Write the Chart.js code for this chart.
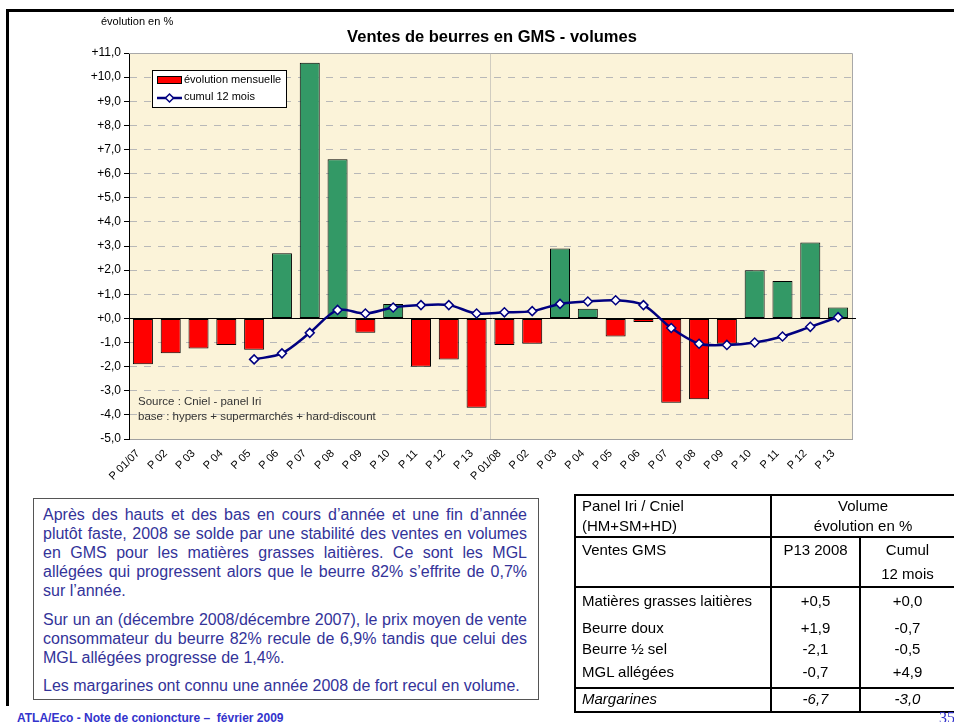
<!DOCTYPE html>
<html lang="fr">
<head>
<meta charset="utf-8">
<title>Ventes de beurres en GMS - volumes</title>
<script src="https://cdn.jsdelivr.net/npm/chart.js@4.4.1/dist/chart.umd.min.js"></script>
<style>
  html, body {
    margin: 0;
    padding: 0;
    width: 954px;
    height: 722px;
    overflow: hidden;
    background: #fff;
    font-family: "Liberation Sans", Arial, sans-serif;
  }
  #frameTop { position: absolute; left: 6px; top: 9px; width: 948px; height: 3px; background: #000; }
  #frameLeft { position: absolute; left: 6px; top: 9px; width: 3px; height: 697px; background: #000; }
  #chart { position: absolute; left: 0; top: 0; }

  #comment {
    position: absolute;
    left: 33px;
    top: 498px;
    width: 506px;
    height: 202px;
    box-sizing: border-box;
    border: 1px solid #555;
    padding: 6px 11px 0 9px;
    color: #333399;
    font-size: 16px;
    line-height: 19px;
  }
  #comment .l { text-align: justify; text-align-last: justify; }
  #comment .end { text-align: left; text-align-last: left; margin-bottom: 9.5px; }

  #recap {
    position: absolute;
    left: 574px;
    top: 494px;
    border-collapse: collapse;
    table-layout: fixed;
    font-size: 15px;
    color: #000;
  }
  #recap td {
    padding: 0 0 0 6px;
    vertical-align: top;
    white-space: nowrap;
    overflow: hidden;
  }
  #recap td.c { text-align: center; padding: 0; }
  #recap .bt { border-top: 2px solid #000; }
  #recap .bb { border-bottom: 2px solid #000; }
  #recap .bl { border-left: 2px solid #000; }
  #recap .br { border-right: 2px solid #000; }
  #recap .it td { font-style: italic; }

  #footer {
    position: absolute;
    left: 17px;
    top: 711px;
    font-size: 12px;
    line-height: 14px;
    font-weight: bold;
    color: #3333cc;
    white-space: nowrap;
  }
  #page {
    position: absolute;
    left: 939px;
    top: 710px;
    font-family: "Liberation Serif", "Times New Roman", serif;
    font-size: 16px;
    line-height: 16px;
    color: #3333cc;
  }
</style>
</head>
<body>
<div id="frameTop"></div>
<div id="frameLeft"></div>
<canvas id="chart" width="954" height="495"></canvas>

<div id="comment">
  <div class="l">Après des hauts et des bas en cours d’année et une fin d’année</div>
  <div class="l">plutôt faste, 2008 se solde par une stabilité des ventes en volumes</div>
  <div class="l">en GMS pour les matières grasses laitières. Ce sont les MGL</div>
  <div class="l">allégées qui progressent alors que le beurre 82% s’effrite de 0,7%</div>
  <div class="l end">sur l’année.</div>
  <div class="l">Sur un an (décembre 2008/décembre 2007), le prix moyen de vente</div>
  <div class="l">consommateur du beurre 82% recule de 6,9% tandis que celui des</div>
  <div class="l end">MGL allégées progresse de 1,4%.</div>
  <div class="l end">Les margarines ont connu une année 2008 de fort recul en volume.</div>
</div>

<table id="recap">
  <colgroup><col style="width:197px"><col style="width:90px"><col style="width:96px"></colgroup>
  <tr style="height:41px; line-height:20px">
    <td class="bt bl br bb">Panel Iri / Cniel<br>(HM+SM+HD)</td>
    <td class="c bt bb" colspan="2">Volume<br>évolution en %</td>
  </tr>
  <tr style="height:48px; line-height:24px">
    <td class="bl br bb">Ventes GMS</td>
    <td class="c br bb">P13 2008</td>
    <td class="c bb">Cumul<br>12 mois</td>
  </tr>
  <tr style="height:26px; line-height:26px">
    <td class="bl br">Matières grasses laitières</td><td class="c br">+0,5</td><td class="c">+0,0</td>
  </tr>
  <tr style="height:27px; line-height:27px">
    <td class="bl br">Beurre doux</td><td class="c br">+1,9</td><td class="c">-0,7</td>
  </tr>
  <tr style="height:15px; line-height:15px">
    <td class="bl br">Beurre ½ sel</td><td class="c br">-2,1</td><td class="c">-0,5</td>
  </tr>
  <tr style="height:32px; line-height:31px">
    <td class="bl br">MGL allégées</td><td class="c br">-0,7</td><td class="c">+4,9</td>
  </tr>
  <tr class="it" style="height:24px; line-height:20px">
    <td class="bt bb bl br">Margarines</td><td class="c bt bb br">-6,7</td><td class="c bt bb">-3,0</td>
  </tr>
</table>

<div id="footer">ATLA/Eco - Note de conjoncture –&nbsp; février 2009</div>
<div id="page">35</div>

<script>
const categories = ['P 01/07', 'P 02', 'P 03', 'P 04', 'P 05', 'P 06', 'P 07', 'P 08', 'P 09', 'P 10', 'P 11', 'P 12', 'P 13',
                    'P 01/08', 'P 02', 'P 03', 'P 04', 'P 05', 'P 06', 'P 07', 'P 08', 'P 09', 'P 10', 'P 11', 'P 12', 'P 13'];

// évolution mensuelle (%)
const monthlyChange = [-1.9, -1.45, -1.25, -1.1, -1.3, 2.7, 10.6, 6.6, -0.6, 0.6, -2.0, -1.7, -3.7,
                       -1.1, -1.05, 2.9, 0.4, -0.75, -0.15, -3.5, -3.35, -1.05, 2.0, 1.55, 3.15, 0.45];

// cumul 12 mois (%), starts at P05 2007
const cumul12 = [null, null, null, null, -1.7, -1.45, -0.6, 0.35, 0.2, 0.45, 0.55, 0.55, 0.2,
                 0.25, 0.3, 0.6, 0.7, 0.75, 0.55, -0.4, -1.05, -1.1, -1.0, -0.75, -0.35, 0.05];

const yMin = -5;
const yMax = 11;
const yStep = 1;
const yearBreak = 13; // first period of 2008

const titleText = 'Ventes de beurres en GMS - volumes';
const yAxisText = 'évolution en %';
const sourceLines = ['Source : Cniel - panel Iri', 'base : hypers + supermarchés + hard-discount'];

const FONT = '"Liberation Sans", Arial, sans-serif';
const RED = '#ff0000';
const GREEN = '#339966';
const NAVY = '#000080';

function fmtTick(v) {
    return (v >= 0 ? '+' : '') + v.toFixed(1).replace('.', ',');
}

function diamond(ctx, x, y, r) {
    ctx.beginPath();
    ctx.moveTo(x, y - r);
    ctx.lineTo(x + r, y);
    ctx.lineTo(x, y + r);
    ctx.lineTo(x - r, y);
    ctx.closePath();
    ctx.fill();
    ctx.stroke();
}

// plot background, frame, zero line, titles, legend and source notes
const decor = {
    id: 'decor',
    beforeDraw(chart) {
        const { ctx, chartArea: a } = chart;
        ctx.save();
        ctx.fillStyle = '#fbf3d9';
        ctx.fillRect(a.left, a.top, a.right - a.left, a.bottom - a.top);
        ctx.restore();
    },
    beforeDatasetsDraw(chart) {
        const { ctx, chartArea: a, scales: { y } } = chart;
        const y0 = Math.round(y.getPixelForValue(0)) + 0.5;
        ctx.save();
        ctx.lineWidth = 1;
        ctx.strokeStyle = '#a8a8a8';
        ctx.beginPath();
        ctx.moveTo(a.left, a.top + 0.5);
        ctx.lineTo(a.right + 0.5, a.top + 0.5);
        ctx.lineTo(a.right + 0.5, a.bottom);
        ctx.stroke();
        ctx.strokeStyle = '#000';
        ctx.beginPath();
        ctx.moveTo(a.left, y0);
        ctx.lineTo(a.right + 4, y0);
        ctx.stroke();
        ctx.restore();
    },
    afterDraw(chart) {
        const { ctx, chartArea: a } = chart;
        const ds = chart.data.datasets;
        ctx.save();

        ctx.fillStyle = '#000';
        ctx.textBaseline = 'middle';
        ctx.textAlign = 'center';
        ctx.font = 'bold 16.5px ' + FONT;
        ctx.fillText(titleText, 492, 37);

        ctx.textAlign = 'left';
        ctx.font = '11px ' + FONT;
        ctx.fillText(yAxisText, 101, 22);

        // legend box
        ctx.fillStyle = '#fff';
        ctx.fillRect(152.5, 70.5, 134, 37);
        ctx.strokeStyle = '#000';
        ctx.lineWidth = 1;
        ctx.strokeRect(152.5, 70.5, 134, 37);

        ctx.fillStyle = RED;
        ctx.fillRect(157.5, 76.5, 24, 7);
        ctx.strokeRect(157.5, 76.5, 24, 7);

        ctx.strokeStyle = NAVY;
        ctx.lineWidth = 2.5;
        ctx.beginPath();
        ctx.moveTo(157, 98);
        ctx.lineTo(182, 98);
        ctx.stroke();
        ctx.fillStyle = '#fff';
        ctx.lineWidth = 1.5;
        diamond(ctx, 169.5, 98, 4);

        ctx.fillStyle = '#000';
        ctx.font = '11px ' + FONT;
        ctx.fillText(ds[1].label, 184, 80);
        ctx.fillText(ds[0].label, 184, 97);

        // source notes
        ctx.fillStyle = '#333';
        ctx.font = '11.5px ' + FONT;
        ctx.fillText(sourceLines[0], a.left + 9, 402);
        ctx.fillText(sourceLines[1], a.left + 9, 417);

        ctx.restore();
    }
};

const ctx = document.getElementById('chart').getContext('2d');

new Chart(ctx, {
    type: 'bar',
    data: {
        labels: categories,
        datasets: [{
            type: 'line',
            label: 'cumul 12 mois',
            data: cumul12,
            order: 0,
            borderColor: NAVY,
            borderWidth: 2.5,
            tension: 0.3,
            fill: false,
            pointStyle: 'rectRot',
            pointRadius: 4.5,
            pointBackgroundColor: '#fff',
            pointBorderColor: NAVY,
            pointBorderWidth: 1.5
        }, {
            type: 'bar',
            label: 'évolution mensuelle',
            data: monthlyChange,
            order: 1,
            backgroundColor: monthlyChange.map(v => v < 0 ? RED : GREEN),
            borderColor: '#000',
            borderWidth: 1,
            borderSkipped: false,
            barPercentage: 0.72,
            categoryPercentage: 1
        }]
    },
    options: {
        responsive: false,
        animation: false,
        devicePixelRatio: 1,
        layout: {
            padding: { top: 53, right: 102, left: 0, bottom: 0 }
        },
        plugins: {
            legend: { display: false },
            title: { display: false },
            tooltip: { enabled: false }
        },
        scales: {
            x: {
                offset: true,
                grid: {
                    offset: true,
                    drawTicks: false,
                    color: (c) => c.index === yearBreak ? '#d0ccc0' : 'rgba(0,0,0,0)'
                },
                border: { color: '#a0a0a0' },
                ticks: {
                    autoSkip: false,
                    maxRotation: 45,
                    minRotation: 45,
                    padding: 8,
                    labelOffset: -5,
                    color: '#000',
                    font: { family: FONT, size: 11 }
                },
                afterFit: (s) => { s.height = 56; }
            },
            y: {
                min: yMin,
                max: yMax,
                ticks: {
                    stepSize: yStep,
                    padding: 3,
                    color: '#000',
                    font: { family: FONT, size: 12 },
                    callback: (v) => fmtTick(v)
                },
                grid: {
                    color: '#b8b8b8',
                    tickColor: '#000',
                    tickLength: 5
                },
                border: { color: '#000', dash: [7, 7] },
                afterFit: (s) => { s.width = 129; }
            }
        }
    },
    plugins: [decor]
});
</script>
</body>
</html>
